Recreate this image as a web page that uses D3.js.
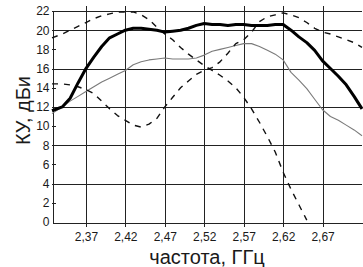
<!DOCTYPE html>
<html>
<head>
<meta charset="utf-8">
<script src="https://cdn.jsdelivr.net/npm/d3@7"></script>
<style>
  html, body { margin: 0; padding: 0; background: #fff; }
  svg { display: block; }
  text { font-family: "Liberation Sans", Arial, sans-serif; fill: #1a1a1a; }
</style>
</head>
<body>
<div id="chart"></div>
<script>
// frequency grid, GHz
const freq = [2.327, 2.34, 2.35, 2.36, 2.37, 2.38, 2.39, 2.40, 2.41, 2.42,
  2.43, 2.44, 2.45, 2.46, 2.47, 2.48, 2.49, 2.50, 2.51, 2.52,
  2.53, 2.54, 2.55, 2.56, 2.57, 2.58, 2.59, 2.60, 2.61, 2.62,
  2.63, 2.64, 2.65, 2.66, 2.67, 2.68, 2.69, 2.70, 2.71, 2.72]

// gain, dBi
const gainThick = [11.6, 12.0, 12.9, 14.5, 16.0, 17.2, 18.3, 19.2, 19.6, 20.0,
  20.2, 20.2, 20.1, 20.0, 19.8, 19.9, 20.0, 20.2, 20.5, 20.7,
  20.6, 20.6, 20.5, 20.6, 20.6, 20.5, 20.5, 20.5, 20.6, 20.6,
  20.0, 19.3, 18.7, 17.9, 16.8, 16.0, 15.2, 14.3, 13.1, 11.8]

const gainThin = [11.3, 12.0, 12.6, 13.1, 13.6, 14.1, 14.6, 15.0, 15.4, 15.8,
  16.4, 16.7, 16.9, 17.0, 17.1, 17.0, 17.0, 17.0, 17.1, 17.4,
  17.8, 18.0, 18.2, 18.4, 18.6, 18.6, 18.3, 17.9, 17.5, 16.9,
  15.6, 14.8, 13.9, 12.8, 11.7, 11.0, 10.6, 10.1, 9.6, 9.0]

const gainDash1 = [19.2, 19.6, 20.0, 20.4, 20.8, 21.2, 21.5, 21.7, 21.9, 21.9,
  21.9, 21.6, 21.1, 20.3, 19.6, 19.0, 18.2, 17.5, 16.9, 16.3,
  15.8, 15.3, 14.7, 14.0, 13.0, 11.8, 10.4, 8.9, 7.3, 5.2,
  3.4, 1.8, 0.2, null, null, null, null, null, null, null]

const gainDash2 = [14.4, 14.4, 14.3, 14.1, 13.8, 13.4, 12.6, 11.8, 11.1, 10.6,
  10.1, 9.9, 10.2, 10.8, 12.0, 13.0, 14.0, 14.7, 15.4, 15.8,
  16.1, 16.7, 17.6, 18.6, 19.0, 19.8, 20.9, 21.4, 21.6, 21.8,
  21.6, 21.3, 20.8, 20.2, 19.8, 19.6, 19.3, 19.0, 18.7, 18.2]

const xTicks = [2.37, 2.42, 2.47, 2.52, 2.57, 2.62, 2.67]
const yTicks = [0, 2, 4, 6, 8, 10, 12, 14, 16, 18, 20, 22]
const yGrid = [4, 8, 12, 16, 20, 22]
const yMinor = [2, 6, 10, 14, 18]

const W = 363, H = 267
const margin = { top: 11, right: 1, bottom: 45, left: 52 }

const svg = d3.select('#chart').append('svg')
  .attr('width', W)
  .attr('height', H)

const x = d3.scaleLinear().domain([2.327, 2.72]).range([margin.left, W - margin.right])
const y = d3.scaleLinear().domain([0, 22]).range([H - margin.bottom, margin.top])

const fmt = d => d3.format('.2f')(d).replace('.', ',')

// GRID
const grid = svg.append('g').attr('stroke', '#222').attr('stroke-width', 1)
  .attr('shape-rendering', 'crispEdges')

grid.selectAll('line.v')
  .data(xTicks)
  .join('line')
  .attr('class', 'v')
  .attr('x1', d => Math.round(x(d)) + 0.5)
  .attr('x2', d => Math.round(x(d)) + 0.5)
  .attr('y1', y(22) - 5)
  .attr('y2', y(0) + 5)

grid.selectAll('line.h')
  .data(yGrid)
  .join('line')
  .attr('class', 'h')
  .attr('x1', x(2.327))
  .attr('x2', W - margin.right)
  .attr('y1', d => Math.round(y(d)) + 0.5)
  .attr('y2', d => Math.round(y(d)) + 0.5)

// minor ticks inside the frame
grid.selectAll('line.minor')
  .data(yMinor)
  .join('line')
  .attr('class', 'minor')
  .attr('x1', x(2.327))
  .attr('x2', x(2.327) + 4)
  .attr('y1', d => Math.round(y(d)) + 0.5)
  .attr('y2', d => Math.round(y(d)) + 0.5)

// AXES
const yAxis = d3.axisLeft(y).tickValues(yTicks).tickSize(0).tickPadding(3)
svg.append('g')
  .attr('transform', `translate(${Math.round(x(2.327)) + 0.5},0)`)
  .call(yAxis)
  .call(g => g.select('.domain').attr('stroke', '#222').attr('shape-rendering', 'crispEdges'))
  .call(g => g.selectAll('text').style('font-size', '12px').attr('fill', '#2a2a40'))

const xAxis = d3.axisBottom(x).tickValues(xTicks).tickFormat(fmt).tickSize(0).tickPadding(10)
svg.append('g')
  .attr('transform', `translate(0,${Math.round(y(0)) + 0.5})`)
  .call(xAxis)
  .call(g => g.select('.domain').attr('stroke', '#222').attr('shape-rendering', 'crispEdges'))
  .call(g => g.selectAll('text').style('font-size', '12px').attr('fill', '#2a2a40'))

// AXIS NAMES
svg.append('text')
  .attr('transform', `translate(30,${(y(0) + y(22)) / 2 - 6}) rotate(-90)`)
  .attr('text-anchor', 'middle')
  .style('font-size', '20px')
  .text('КУ, дБи')

svg.append('text')
  .attr('x', 207)
  .attr('y', 264)
  .attr('text-anchor', 'middle')
  .style('font-size', '20px')
  .text('частота, ГГц')

// CURVES
const line = d3.line()
  .defined(d => d[1] !== null)
  .x(d => x(d[0]))
  .y(d => y(d[1]))

const series = [
  { values: gainThin, stroke: '#7a7a7a', width: 1.1, dash: null },
  { values: gainDash1, stroke: '#111', width: 1.4, dash: '6,6' },
  { values: gainDash2, stroke: '#111', width: 1.4, dash: '6,6' },
  { values: gainThick, stroke: '#000', width: 3, dash: null },
]

svg.append('g').selectAll('path')
  .data(series)
  .join('path')
  .attr('fill', 'none')
  .attr('stroke', d => d.stroke)
  .attr('stroke-width', d => d.width)
  .attr('stroke-dasharray', d => d.dash)
  .attr('stroke-linejoin', 'round')
  .attr('d', d => line(freq.map((f, i) => [f, d.values[i]])))
</script>
</body>
</html>
